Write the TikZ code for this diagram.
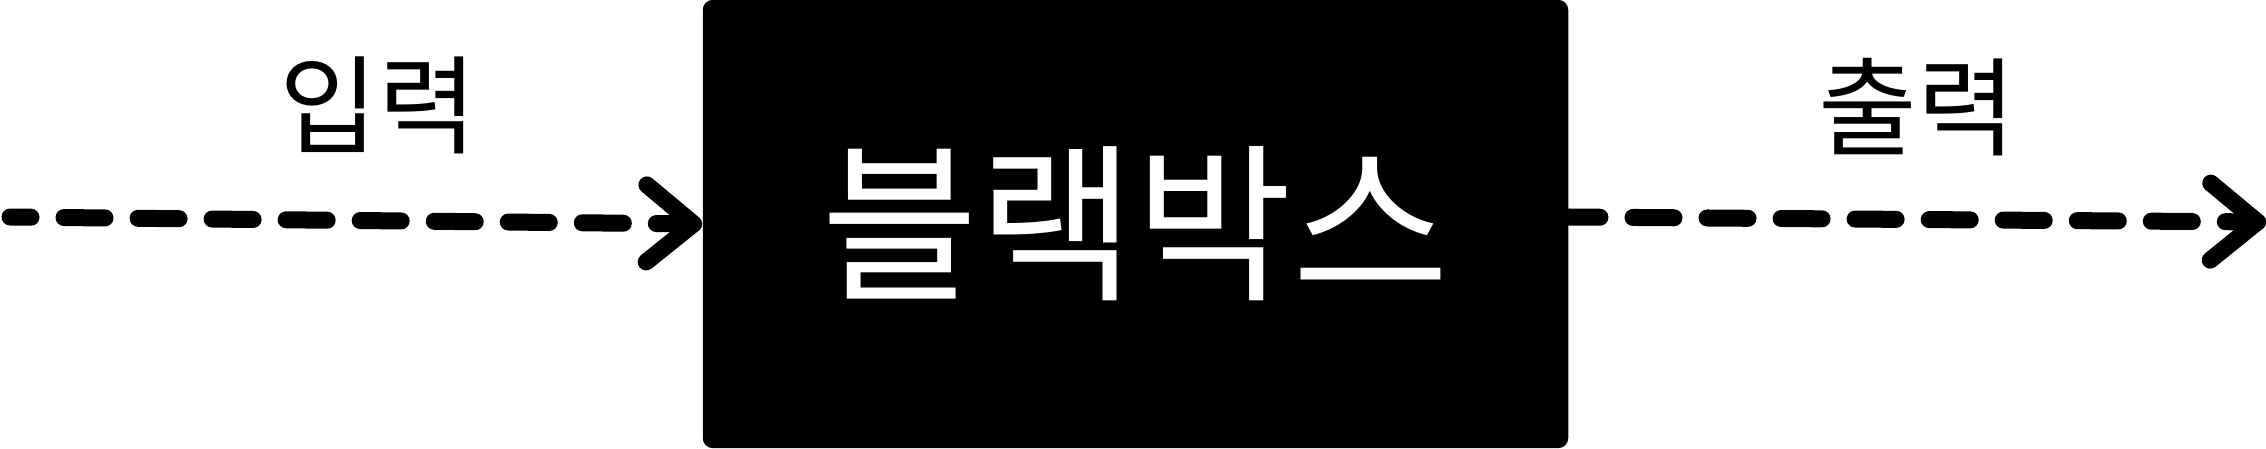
\documentclass[tikz,border=0pt]{standalone}
\usepackage{fontspec}
\setmainfont{Noto Sans CJK KR}
\usetikzlibrary{arrows.meta}

\pgfdeclarearrow{
  name = Chevron,
  defaults = {length = 4pt, width = 6pt, line width = +0pt 1 1},
  setup code = {
    \pgfarrowssettipend{.5\pgfarrowlinewidth}
    \pgfarrowssetlineend{0pt}
    \pgfarrowssetbackend{-\pgfarrowlength}
    \pgfarrowssavethe\pgfarrowlength
    \pgfarrowssavethe\pgfarrowwidth
    \pgfarrowssavethe\pgfarrowlinewidth
  },
  drawing code = {
    \pgfsetdash{}{+0pt}
    \pgfsetroundcap
    \pgfsetroundjoin
    \pgfsetlinewidth{\pgfarrowlinewidth}
    \pgfpathmoveto{\pgfqpoint{-\pgfarrowlength}{.5\pgfarrowwidth}}
    \pgfpathlineto{\pgfpointorigin}
    \pgfpathlineto{\pgfqpoint{-\pgfarrowlength}{-.5\pgfarrowwidth}}
    \pgfusepathqstroke
  },
  parameters = {\the\pgfarrowlength,\the\pgfarrowwidth,\the\pgfarrowlinewidth},
}

\begin{document}
\begin{tikzpicture}[
    x=0.01cm, y=-0.01cm,
    flow/.style={line width=0.17cm, line cap=round,
      dash pattern=on 0.41cm off 0.33cm,
      -{Chevron[length=0.47cm,width=0.77cm]}},
    ]
    \useasboundingbox (0,0) rectangle (2266,448);

    \node[fill=black, rounded corners=0.1cm, minimum width=8.65cm,
      minimum height=4.48cm, text=white,
      font=\fontsize{48.5}{50}\selectfont] (bbox) at (1135.5,224) {블랙박스};

    \coordinate (src) at (10,217);
    \coordinate (dst) at (2266,222);
    \draw[flow, dash phase=0.2cm] (src) -- (bbox.west);
    \draw[flow, dash phase=0.1cm] ([yshift=0.07cm]bbox.east) -- (dst);

    \node[font=\fontsize{30.5}{32}\selectfont] (inlabel) at (378,105) {입력};
    \node[font=\fontsize{30.5}{32}\selectfont] (outlabel) at (1917,107) {출력};
\end{tikzpicture}
\end{document}
